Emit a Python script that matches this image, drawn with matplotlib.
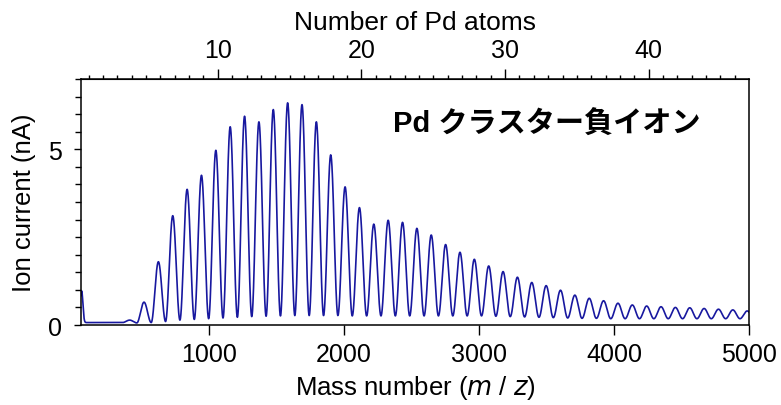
import numpy as np
import matplotlib
matplotlib.use("Agg")
import matplotlib.pyplot as plt
from matplotlib.ticker import FixedLocator, MultipleLocator

plt.rcParams['font.family'] = ['Liberation Sans', 'Noto Sans CJK JP']

# ---- data ----
PD_MASS = 106.42          # mass of one Pd atom
MASS_OFFSET = -15.0       # calibration shift of the peaks seen in the spectrum

cluster_sizes = list(range(4, 48))
peak_heights = [0.14, 0.65, 1.80, 3.11, 3.86, 4.26, 4.97, 5.64, 5.94, 5.78,
                6.13, 6.32, 6.27, 5.78, 4.84, 3.93, 3.34, 2.87, 2.98, 2.92,
                2.75, 2.56, 2.29, 2.07, 1.87, 1.68, 1.52, 1.36, 1.21, 1.12,
                0.99, 0.85, 0.76, 0.69, 0.62, 0.57, 0.54, 0.52, 0.50, 0.49,
                0.47, 0.45, 0.43, 0.40]
# minimum reached after each peak (n = 4 .. 46)
valley_after = [0.06, 0.07, 0.10, 0.14, 0.16, 0.18, 0.20, 0.22, 0.24, 0.25,
                0.26, 0.27, 0.27, 0.27, 0.27, 0.26, 0.26, 0.26, 0.26, 0.26,
                0.26, 0.26, 0.26, 0.26, 0.26, 0.25, 0.24, 0.23, 0.22, 0.21,
                0.20, 0.19, 0.19, 0.18, 0.18, 0.18, 0.18, 0.18, 0.18, 0.18,
                0.18, 0.18, 0.18]
plateau_level = 0.07
spike_mass = 55.0
spike_height = 0.90
spike_width = 9.0

x_ticks = [1000, 2000, 3000, 4000, 5000]
y_ticks = [0, 5]
atom_ticks = [10, 20, 30, 40]
x_range = (50, 5000)
y_range = (0, 7)

title_text = "Pd クラスター負イオン"


def spectrum(m):
    y = np.full_like(m, plateau_level)
    y += spike_height * np.exp(-0.5 * ((m - spike_mass) / spike_width) ** 2)
    left_vals = [plateau_level] + valley_after
    right_vals = valley_after + [valley_after[-1]]
    half = PD_MASS / 2
    for n, h, vl, vr in zip(cluster_sizes, peak_heights, left_vals, right_vals):
        mu = n * PD_MASS + MASS_OFFSET
        c = np.cos(np.pi * (m - mu) / PD_MASS) ** 2
        sl = (m >= mu - half) & (m < mu)
        sr = (m >= mu) & (m < mu + half)
        y[sl] = vl + (h - vl) * c[sl]
        y[sr] = vr + (h - vr) * c[sr]
    return y


mass = np.linspace(x_range[0], x_range[1], 20000)
current = spectrum(mass)

fig = plt.figure(figsize=(7.81, 4.06), dpi=100)
ax = fig.add_axes([0.1037, 0.197, 0.8553, 0.606])
ax.plot(mass, current, color='#18189f', lw=1.2)

ax.set_xlim(*x_range)
ax.set_ylim(*y_range)
ax.xaxis.set_major_locator(FixedLocator(x_ticks))
ax.yaxis.set_major_locator(FixedLocator(y_ticks))
ax.yaxis.set_minor_locator(MultipleLocator(0.5))
ax.tick_params(axis='x', which='major', direction='out', length=7, width=1.0,
               labelsize=18, pad=5)
ax.tick_params(axis='y', which='major', direction='out', length=5, width=1.0,
               labelsize=18, pad=9)
ax.tick_params(axis='y', which='minor', direction='out', length=4, width=1.0)
ax.tick_params(top=False, right=False)
for s in ax.spines.values():
    s.set_linewidth(1.1)

ax.set_xlabel("Mass number ($\\it{m}$ / $\\it{z}$)", fontsize=18.5, labelpad=5)
ax.set_ylabel("Ion current (nA)", fontsize=18.5, labelpad=8)

sec = ax.secondary_xaxis('top', functions=(lambda m: m / PD_MASS,
                                           lambda n: n * PD_MASS))
sec.xaxis.set_major_locator(FixedLocator(atom_ticks))
sec.xaxis.set_minor_locator(MultipleLocator(1))
sec.tick_params(which='major', direction='out', length=7.5, width=1.0,
                labelsize=18, pad=5)
sec.tick_params(which='minor', direction='out', length=3, width=1.0)
sec.set_xlabel("Number of Pd atoms", fontsize=19, labelpad=6)

ax.text(0.467, 0.817, title_text, transform=ax.transAxes, fontsize=21,
        fontweight='bold', ha='left', va='center')

fig.savefig('out.png', dpi=100)
